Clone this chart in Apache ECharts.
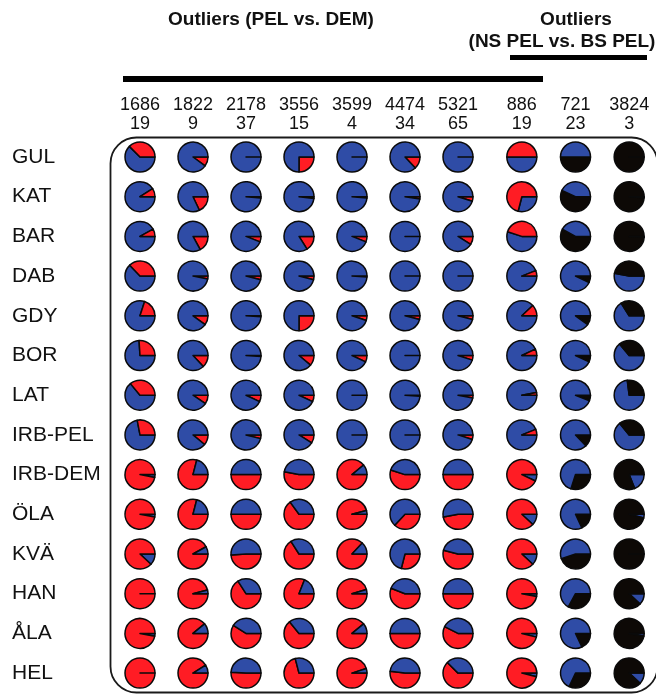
<!DOCTYPE html>
<html>
<head>
<meta charset="utf-8">
<script src="https://cdn.jsdelivr.net/npm/echarts@6/dist/echarts.min.js"></script>
<style>
  html, body { margin: 0; padding: 0; background: #ffffff; }
  #chart { width: 656px; height: 694px; }
</style>
</head>
<body>
<div id="chart"></div>
<script>
// Outlier SNP loci (column headers) and the number of outliers each represents
const snpIds = ['1686', '1822', '2178', '3556', '3599', '4474', '5321', '886', '721', '3824'];
const outlierCounts = ['19', '9', '37', '15', '4', '34', '65', '19', '23', '3'];

// Sampled populations, top to bottom
const populations = ['GUL', 'KAT', 'BAR', 'DAB', 'GDY', 'BOR', 'LAT', 'IRB-PEL',
                     'IRB-DEM', 'ÖLA', 'KVÄ', 'HAN', 'ÅLA', 'HEL'];

// Frequency of the marked allele per locus (red for the first eight loci, black for the last two)
const freqGUL    = [0.375, 0.10, 0.00, 0.25, 0.00, 0.13, 0.00, 0.50, 0.50, 1.00];
const freqKAT    = [0.09, 0.18, 0.015, 0.02, 0.015, 0.025, 0.05, 0.71, 0.57, 0.99];
const freqBAR    = [0.08, 0.17, 0.06, 0.16, 0.06, 0.00, 0.09, 0.45, 0.58, 0.99];
const freqDAB    = [0.37, 0.03, 0.04, 0.04, 0.01, 0.00, 0.00, 0.06, 0.07, 0.47];
const freqGDY    = [0.20, 0.10, 0.01, 0.25, 0.05, 0.04, 0.04, 0.12, 0.10, 0.34];
const freqBOR    = [0.26, 0.13, 0.01, 0.11, 0.07, 0.00, 0.05, 0.07, 0.07, 0.36];
const freqLAT    = [0.36, 0.095, 0.07, 0.07, 0.00, 0.01, 0.03, 0.03, 0.06, 0.27];
const freqIRBPEL = [0.28, 0.11, 0.04, 0.09, 0.00, 0.00, 0.05, 0.06, 0.13, 0.36];
const freqIRBDEM = [0.97, 0.79, 0.50, 0.53, 0.89, 0.55, 0.50, 0.93, 0.30, 0.81];
const freqOLA    = [0.97, 0.79, 0.50, 0.65, 0.96, 0.37, 0.47, 0.88, 0.18, 0.96];
const freqKVA    = [0.88, 0.92, 0.49, 0.66, 0.87, 0.29, 0.54, 0.88, 0.45, 1.00];
const freqHAN    = [1.00, 0.96, 0.66, 0.81, 0.955, 0.56, 0.50, 0.97, 0.33, 0.88];
const freqALA    = [0.97, 0.89, 0.59, 0.64, 0.89, 0.50, 0.575, 0.96, 0.18, 0.97];
const freqHEL    = [1.00, 0.91, 0.51, 0.71, 0.95, 0.52, 0.625, 0.96, 0.32, 0.88];

// Whether the marked allele's slice is drawn first (clockwise from 3 o'clock) at each locus
const markedFirst = [false, true, true, true, true, true, true, false, true, false];

const popFreqs = [freqGUL, freqKAT, freqBAR, freqDAB, freqGDY, freqBOR, freqLAT, freqIRBPEL,
                  freqIRBDEM, freqOLA, freqKVA, freqHAN, freqALA, freqHEL];

const BLUE = '#2f4ca6';
const RED = '#ff1c24';
const BLACK = '#0d0906';
const FONT = '"Liberation Sans", Arial, sans-serif';

const leftLoci = snpIds.slice(0, 7);
const rightLoci = snpIds.slice(7);

const chart = echarts.init(document.getElementById('chart'), null, { renderer: 'canvas' });

const gridTop = 137.15;
const gridHeight = 555.8;

function locusAxis(gridIndex, data) {
  return {
    type: 'category',
    gridIndex: gridIndex,
    data: data,
    position: 'top',
    axisLine: { show: false },
    axisTick: { show: false },
    splitLine: { show: false },
    axisLabel: {
      interval: 0,
      margin: 4,
      fontFamily: FONT,
      fontSize: 18,
      lineHeight: 19,
      color: '#111',
      formatter: v => v + '\n' + outlierCounts[snpIds.indexOf(v)]
    }
  };
}

function popAxis(gridIndex, showLabels) {
  return {
    type: 'category',
    gridIndex: gridIndex,
    data: populations,
    inverse: true,
    axisLine: { show: false },
    axisTick: { show: false },
    splitLine: { show: false },
    axisLabel: {
      show: showLabels,
      interval: 0,
      align: 'left',
      margin: 101.5,
      fontFamily: FONT,
      fontSize: 21,
      color: '#111'
    }
  };
}

chart.setOption({
  animation: false,
  backgroundColor: '#ffffff',
  grid: [
    { left: 113.5, top: gridTop, width: 371, height: gridHeight },
    { left: 495, top: gridTop, width: 162, height: gridHeight }
  ],
  xAxis: [locusAxis(0, leftLoci), locusAxis(1, rightLoci)],
  yAxis: [popAxis(0, true), popAxis(1, false)],
  graphic: [
    {
      type: 'text', x: 271, y: 20,
      style: { text: 'Outliers (PEL vs. DEM)', font: 'bold 19px ' + FONT, fill: '#111',
               textAlign: 'center', textVerticalAlign: 'middle' }
    },
    {
      type: 'text', x: 576, y: 20,
      style: { text: 'Outliers', font: 'bold 19px ' + FONT, fill: '#111',
               textAlign: 'center', textVerticalAlign: 'middle' }
    },
    {
      type: 'text', x: 562, y: 42,
      style: { text: '(NS PEL vs. BS PEL)', font: 'bold 19px ' + FONT, fill: '#111',
               textAlign: 'center', textVerticalAlign: 'middle' }
    },
    {
      type: 'rect', shape: { x: 123, y: 76, width: 420, height: 6 },
      style: { fill: '#000' }
    },
    {
      type: 'rect', shape: { x: 510, y: 55, width: 137, height: 5 },
      style: { fill: '#000' }
    },
    {
      type: 'rect', shape: { x: 110.5, y: 137.5, width: 547, height: 555, r: 26 },
      style: { fill: 'none', stroke: '#1a1a1a', lineWidth: 1.8 }, z: -1
    }
  ]
});

// One small pie per population x locus, centred on the category grid cell
const series = [];
populations.forEach((pop, r) => {
  snpIds.forEach((snp, c) => {
    const gridIndex = c < 7 ? 0 : 1;
    const center = chart.convertToPixel({ gridIndex: gridIndex }, [snp, pop]);
    const marked = popFreqs[r][c];
    const markedColor = c < 8 ? RED : BLACK;
    const markedSlice = { name: 'marked', value: marked, itemStyle: { color: markedColor } };
    const otherSlice = { name: 'other', value: 1 - marked, itemStyle: { color: BLUE } };
    let slices = markedFirst[c] ? [markedSlice, otherSlice] : [otherSlice, markedSlice];
    // An empty slice sits on the 3 o'clock ray either way; drawing it last keeps
    // its border stroke above the full-circle fill.
    if (marked === 0) slices = [otherSlice, markedSlice];
    if (marked === 1) slices = [markedSlice, otherSlice];
    series.push({
      type: 'pie',
      silent: true,
      center: center,
      radius: 15,
      startAngle: 0,
      clockwise: true,
      avoidLabelOverlap: false,
      stillShowZeroSum: true,
      label: { show: false },
      labelLine: { show: false },
      emphasis: { disabled: true },
      itemStyle: { borderColor: '#0a0a0a', borderWidth: 1.5 },
      data: slices
    });
  });
});

chart.setOption({ series: series });
</script>
</body>
</html>
